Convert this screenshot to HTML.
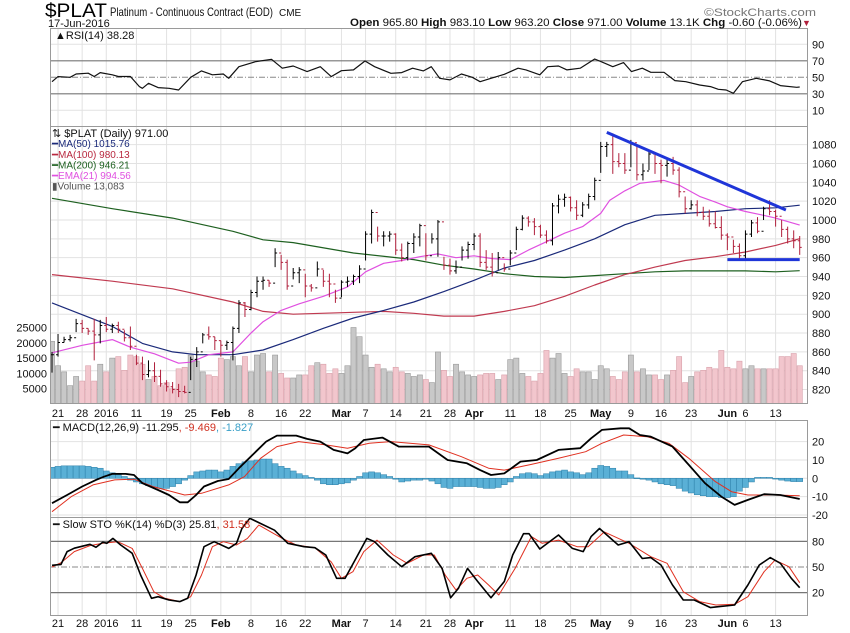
<!DOCTYPE html>
<html><head><meta charset="utf-8"><style>
html,body{margin:0;padding:0;background:#fff;}
svg{display:block;font-family:"Liberation Sans",sans-serif;}
</style></head><body>
<svg id="chart" width="850" height="633" viewBox="0 0 850 633" xmlns="http://www.w3.org/2000/svg">
<defs>
<clipPath id="cR"><rect x="50" y="28" width="758" height="99"/></clipPath>
<clipPath id="cP"><rect x="50" y="127" width="758" height="277"/></clipPath>
<clipPath id="cM"><rect x="50" y="420" width="758" height="98"/></clipPath>
<clipPath id="cS"><rect x="50" y="518" width="758" height="98"/></clipPath>
</defs>
<g id="grid"></g>
<g id="marks"></g>
<g id="frames" fill="none" stroke="#9a9a9a" stroke-width="1">
<rect x="50.5" y="28.5" width="757" height="98"/>
<rect x="50.5" y="126.5" width="757" height="277"/>
<rect x="50.5" y="420.5" width="757" height="97"/>
<rect x="50.5" y="517.5" width="757" height="98"/>
</g>
<g id="labels" font-size="11" fill="#111"></g>
<g>
<text x="45" y="17" font-size="19" fill="#000" textLength="62" lengthAdjust="spacingAndGlyphs">$PLAT</text>
<text x="110" y="16" font-size="12" fill="#111" textLength="163" lengthAdjust="spacingAndGlyphs">Platinum - Continuous Contract (EOD)</text>
<text x="279" y="16" font-size="10" fill="#111">CME</text>
<text x="48" y="27" font-size="11" fill="#111">17-Jun-2016</text>
<text x="704" y="16" font-size="11" fill="#777" textLength="112" lengthAdjust="spacingAndGlyphs">©StockCharts.com</text>
<text x="350" y="26" font-size="11" fill="#111" textLength="452" lengthAdjust="spacingAndGlyphs"><tspan font-weight="bold">Open</tspan> 965.80 <tspan font-weight="bold">High</tspan> 983.10 <tspan font-weight="bold">Low</tspan> 963.20 <tspan font-weight="bold">Close</tspan> 971.00 <tspan font-weight="bold">Volume</tspan> 13.1K <tspan font-weight="bold">Chg</tspan> -0.60 (-0.06%)</text>
<text x="802" y="26" font-size="9" fill="#b0203c">▼</text>
</g>
<g font-size="11">
<text x="55" y="39" fill="#111">▲RSI(14) 38.28</text>
<text x="52" y="137" fill="#111">⇅ $PLAT (Daily) 971.00</text>
<text x="52" y="147" font-size="10" fill="#1b2a7a">━MA(50) 1015.76</text>
<text x="52" y="158" font-size="10" fill="#b8283f">━MA(100) 980.13</text>
<text x="52" y="168.5" font-size="10" fill="#1e6020">━MA(200) 946.21</text>
<text x="52" y="179" font-size="10" fill="#e050e0">━EMA(21) 994.56</text>
<text x="52" y="189.5" font-size="10" fill="#555">▮Volume 13,083</text>
<text x="53" y="431" fill="#111">━ MACD(12,26,9) -11.295<tspan fill="#d03020">, -9.469</tspan><tspan fill="#3aa0c8">, -1.827</tspan></text>
<text x="53" y="528" fill="#111">━ Slow STO %K(14) %D(3) 25.81<tspan fill="#d03020">, 31.58</tspan></text>
</g>
</svg>
<script>
const highs=[860,879,876,878,895,894,885,895,894,897,890,892,883,887,857,855,851,849,841,830,828,826,824,855,865,880,887,876,872,872,887,915,913,926,940,940,936,970,963,958,949,950,943,932,956,947,943,926,936,940,942,952,988,1011,993,988,988,986,975,977,986,996,986,986,1000,961,959,957,972,977,986,986,968,965,966,954,968,993,1005,1004,1002,995,989,1018,1027,1028,1025,1021,1019,1028,1045,1083,1083,1092,1071,1071,1085,1078,1060,1074,1071,1064,1064,1067,1056,1025,1021,1021,1014,1011,1009,1004,986,979,975,989,1000,1003,1014,1021,1011,1000,993,989,983];
const lows=[838,855,870,871,881,880,878,851,869,881,880,880,871,862,846,830,833,828,823,818,816,812,816,830,844,869,873,862,855,862,851,880,897,904,918,926,929,950,947,926,937,933,918,924,940,929,918,912,918,929,931,933,957,975,977,972,977,963,956,957,965,972,957,975,961,947,942,943,957,959,968,950,947,940,947,945,952,968,989,993,984,981,975,973,1007,1014,1009,1000,1003,1012,1021,1050,1067,1049,1056,1049,1056,1042,1042,1053,1049,1039,1046,1048,1024,1007,1011,1004,1000,993,991,979,968,965,959,957,982,986,1000,1005,993,982,975,970,963];
const closes=[857,870,873,875,890,885,882,878,888,884,888,884,875,866,848,836,840,834,826,823,820,818,817,852,860,878,876,872,867,870,885,912,905,923,935,936,933,965,955,930,944,947,930,928,948,935,932,917,934,935,940,948,985,1008,983,983,985,968,960,975,982,994,962,980,998,952,946,950,968,974,983,955,950,944,960,948,965,990,1002,998,993,984,978,1015,1022,1024,1013,1005,1016,1025,1042,1078,1080,1062,1060,1053,1082,1048,1052,1070,1060,1058,1060,1053,1030,1012,1016,1008,1004,996,992,984,982,972,962,985,997,988,1012,1009,1004,990,980,978,971];
const volumes=[20500,12500,10500,6000,9000,7500,12500,7500,13000,10500,15000,15500,11000,16000,15500,13000,8000,9000,6000,7000,5000,11500,12000,16000,14000,10500,9500,9000,15000,14500,15500,12500,15500,10500,16000,16500,10500,16000,10000,8500,8500,9500,9500,12500,13500,13000,10000,11500,10000,12500,25000,22000,16000,12000,13000,11500,10500,12000,10500,10000,9000,9500,8000,7000,17000,11000,9000,13000,10500,9500,9000,9500,10000,10000,8000,9500,14500,15000,10000,9000,7500,10000,17500,15000,16500,10000,9000,11500,10500,10500,8000,12500,11500,9000,8000,10500,16000,10500,11500,9500,9500,8000,9500,11000,15500,7000,9000,10500,11000,12000,11500,17500,12000,11500,14000,11500,12500,11500,11500,11500,11500,15500,15500,16500,12500];
const ma50=[[0,912],[10,887],[15,869],[20,860],[24,857],[30,857],[35,862],[40,873],[45,885],[50,896],[55,904],[60,913],[65,924],[70,936],[75,949],[80,957],[85,968],[90,980],[95,995],[100,1005],[105,1007],[110,1009],[115,1012],[120,1013],[124,1015.76]];
const ma100=[[0,942],[10,935],[20,927],[30,913],[35,903],[40,900],[50,902],[55,903],[60,901],[65,898],[70,898],[75,903],[80,909],[85,919],[90,931],[95,942],[100,950],[105,957],[110,961],[115,966],[120,973],[124,980.13]];
const ma200=[[0,1023],[10,1012],[20,1002],[30,988],[35,979],[40,976],[50,965],[60,958],[65,952],[70,948],[75,943],[80,940],[85,939],[90,941],[95,943],[100,945],[105,946],[110,946],[115,946],[120,945],[124,946.21]];
const ema21=[[0,859],[5,867],[10,873],[13,865],[17,858],[21,848],[23,849],[26,857],[30,860],[33,880],[35,892],[38,904],[41,911],[45,919],[49,929],[52,945],[55,954],[58,957],[61,961],[64,964],[67,960],[70,962],[73,959],[76,958],[79,968],[82,977],[85,986],[88,993],[91,1007],[92.5,1021],[95,1031],[97.5,1039],[101.5,1042],[104,1037],[107.4,1025],[110,1019],[112,1014],[115,1009],[118,1005],[120,1002],[124,994.56]];
const rsi=[[0,44.7],[1,50.8],[3,50],[4,54],[6,55],[7,51],[8,55.7],[10,53],[11,51],[13,51],[14.5,38.7],[15,36.7],[16,42.7],[17.6,37.5],[19.4,36.7],[21,34.6],[23,50],[24.8,57.7],[26.6,53],[28.4,54],[29.3,48.8],[31,62.9],[33.8,69],[36.4,71.8],[38.2,61],[40,63.7],[42.3,56.9],[44.5,62.9],[46.3,50.8],[48,58],[50,59],[51.9,69.8],[53.5,62.9],[56.2,54.8],[58,55.7],[59.8,61],[61.6,57.7],[62.9,62.9],[64.3,48.8],[66,46.8],[67.9,54],[69.7,50],[71,44.7],[72.8,48.8],[75,53.6],[77.3,61],[78.6,59],[80.9,53],[82.2,62.9],[84,63.7],[85.4,59],[87.6,61],[90,72.2],[91.7,67],[93,62.9],[94.8,67.8],[96.1,56.9],[97.9,61],[99.3,56],[101.5,56],[103.3,46],[105.1,44.7],[107.4,40.7],[109.2,38.7],[110.5,35.5],[111.8,34.6],[113,30.6],[114.5,44.7],[116.8,48.8],[119,45.6],[120.8,39.9],[123.5,37.9],[124,38.28]];
const macd=[[0,-13.6],[2.5,-9.1],[5,-4.5],[7.3,-0.9],[8.6,0.9],[10,2.4],[12.2,2.4],[13.6,1.8],[15,-2.7],[17.6,-6.4],[19.4,-9.1],[21.2,-13.1],[22.5,-13.1],[23.9,-9.1],[25.2,-4.5],[27.5,-1.5],[29.3,-0.4],[31,5.5],[33.8,14.5],[35.5,20],[37.3,23.3],[40.5,23.3],[42.3,21.5],[44.5,20],[46.7,15.5],[49,13.6],[50.3,16.4],[51.7,20.9],[54.8,22.2],[57.5,17.3],[59.8,17.3],[62.5,17.3],[65.6,10],[68.8,8.2],[71,4.5],[72.8,1.8],[75,2.7],[77.7,9.1],[80.4,10],[84,15.5],[87.6,16.4],[89.4,21.8],[91.2,26.4],[94.3,27.3],[95.7,27.3],[97.5,23.6],[99.3,22.7],[102.9,17.3],[105.6,7.3],[108.3,-2.7],[111,-10],[113.2,-14.5],[115.4,-11.8],[118.1,-8.7],[120.8,-9.1],[124,-11.3]];
const signal=[[0,-18.2],[3.2,-10],[6.8,-3.6],[10.4,-0.9],[13.6,-0.5],[16.7,-4.5],[22,-9.1],[24.8,-8.2],[29.3,-3.6],[31.9,0.9],[34.6,10.9],[37.3,17.3],[40.9,20],[45.4,18.2],[49,16.4],[52.6,19.1],[56.2,20],[62.5,18.2],[67.9,11.8],[72.4,5.5],[75,4.5],[79.5,7.6],[84,10.9],[88.5,14.5],[91.2,19.1],[94.8,23.6],[98.7,22.7],[102.3,19.1],[105.6,10.9],[110,-1.8],[112.7,-7.3],[115.4,-9.1],[119.9,-9.1],[124,-9.5]];
const hist=[6,6.5,6.8,6.8,6.8,6.8,6.5,6,5.5,4,3,2,1,-1,-2,-3,-4,-5,-5.5,-5.5,-4.5,-3,-1,1.5,3.5,4,4.5,4.5,3.5,4.5,6.5,8,9,9.5,10,10.5,10.5,8,6.5,5.5,4,2.5,1.5,0.5,-1,-3,-3.5,-3.5,-3,-2.5,-1,1,3,3.5,3,2,1,-0.5,-2,-1.5,-1,-1,-0.5,-1.5,-3,-5,-5.5,-4.5,-4.5,-4.5,-4.5,-5,-5.5,-5.5,-5,-3.5,-2,1,2.5,3,2.5,1.5,2.5,3.5,4,4.5,3.5,3,2,3,5.5,7,6.5,5.5,4,4,2,0.2,-0.5,-1,-2,-3,-3.5,-4,-5.5,-7,-8,-9,-9.5,-10,-10,-10.5,-10.5,-10,-7,-5,-2,0.5,0.5,0.5,0,-1,-1.5,-1.8,-1.8];
const stoK=[[0,52],[1.5,53],[2.5,68],[3.7,72],[6.3,76.5],[7.3,73],[8.4,79],[9.1,77.7],[10.1,83.5],[11.4,75.7],[13.3,66],[14.7,40.6],[16.5,13.4],[17.6,15.3],[19.4,11.4],[21.2,9.5],[22.5,13.4],[23.9,40.6],[25.2,73.8],[26.9,79.6],[29.3,71.8],[30.6,77.7],[31.5,95],[32.8,107],[36.9,93],[39.1,77.7],[41.8,73.8],[43.6,72.6],[45.4,64],[47.2,36.8],[48.6,36.8],[50.4,60],[52.2,83.5],[53.5,79.6],[55.7,64],[58,50.4],[60.2,62],[62.9,66],[64.7,48.4],[66.1,14],[67.4,25],[68.9,48.4],[70.6,33],[72.8,14],[75,33],[76.4,64],[78.2,89],[79.1,89],[80.9,71],[84,87.4],[86.3,71.8],[88.1,68],[89.4,85.5],[90.8,95],[93.9,75.7],[95.7,79.6],[97.9,60],[99.3,61],[101,52.3],[102.9,29],[104.7,11.4],[106.5,11.4],[109.2,2.5],[110.5,3.6],[113.2,5.6],[115.4,29],[117.3,52.3],[119.1,61],[120.8,54.3],[122.6,36.8],[124,25.81]];
const stoD=[[0,50],[1.5,55],[3.7,68],[6.3,75],[8.4,77.7],[10.9,79.6],[13.3,71.8],[15,48.4],[16.9,21],[18.7,13.4],[21.2,9.5],[23,15.3],[24.8,40.6],[26.6,73.8],[28.4,79.6],[30.6,75.7],[32.4,83.5],[34.3,99],[38.2,83.5],[40.5,75.7],[43.6,72.6],[46.3,56],[48,36.8],[49.9,44.5],[51.7,68],[53.9,81.5],[56.6,64],[58.9,54.3],[61.6,64],[63.4,64],[65.2,40.6],[67,23],[68.8,36.8],[70.6,40.6],[72.4,29],[74.1,17.3],[76.8,48.4],[79.5,85.5],[81.3,77.7],[84,81.5],[87.1,73.8],[88.9,73.8],[91.6,91],[95.7,77.7],[99.3,62],[102,54.3],[104.7,21],[107.4,9.5],[110.1,5.6],[113.2,6.4],[115.4,15.3],[118.1,44.5],[119.9,58],[122.2,50.4],[124,31.58]];
const trendDown=[[92,1093],[121.7,1010.6]];
const supportLine=[[112,958],[124,958]];
const dateIdx=[1,5,9,14,19,23,28,33,38,42,48,52,57,62,66,70,76,81,86,91,96,101,106,112,115,120];
const dateLabels=["21","28","2016","11","19","25","Feb","8","16","22","Mar","7","14","21","28","Apr","11","18","25","May","9","16","23","Jun","6","13"];
const priceTicks=[820,840,860,880,900,920,940,960,980,1000,1020,1040,1060,1080];
const volTicks=[5000,10000,15000,20000,25000];
const rsiTicks=[10,30,50,70,90];
const macdTicks=[-20,-10,0,10,20];
const stoTicks=[20,50,80];

const NS="http://www.w3.org/2000/svg";
const X=i=>52+6.03*i;
const yP=p=>220-(p-1000)*0.942;
const yV=v=>404-v*0.00306;
const yR=r=>77.3-(r-50)*0.825;
const yM=v=>478.3-v*1.833;
const yS=v=>567-(v-50)*0.855;
function mk(tag,attrs,parent){const e=document.createElementNS(NS,tag);for(const k in attrs)e.setAttribute(k,attrs[k]);parent.appendChild(e);return e;}
const grid=document.getElementById('grid'),marks=document.getElementById('marks'),labels=document.getElementById('labels');

// vertical grid lines
dateIdx.forEach((d,k)=>{
  [[28,127],[127,404],[420,518],[518,616]].forEach(r=>{
    const l=mk('line',{x1:X(d),x2:X(d),y1:r[0],y2:r[1],stroke:'#e2e2e2'},grid);
    
    
  });
  const bold=isNaN(+dateLabels[k]);
  [417,627].forEach(yy=>{
    const t=mk('text',{x:X(d),y:yy,'text-anchor':'middle','font-weight':bold?'bold':'normal'},labels);
    t.textContent=dateLabels[k];
    
    
  });
});
function hTicks(ticks,f,x1,lab,style){
  ticks.forEach(v=>{
    const st=style?style(v):{stroke:'#e2e2e2'};
    const l=mk('line',Object.assign({x1:x1,x2:808,y1:f(v),y2:f(v)},st),grid);
    
    
    if(lab){const t=mk('text',{x:812,y:f(v)+4},labels);t.textContent=v;
      
      }
  });
}
hTicks(priceTicks,yP,50,true);
hTicks(rsiTicks,yR,50,true,v=>v==70||v==30?{stroke:'#777','stroke-width':1.2}:v==50?{stroke:'#888','stroke-dasharray':'6,2,1,2'}:{stroke:'#e2e2e2'});
hTicks(macdTicks,yM,50,true);
hTicks(stoTicks,yS,50,true,v=>v==50?{stroke:'#888','stroke-dasharray':'6,2,1,2'}:{stroke:'#777','stroke-width':1.2});
volTicks.forEach(v=>{const t=mk('text',{x:47,y:yV(v)+4,'text-anchor':'end'},labels);t.textContent=v;
  
  });

// volume
const gV=mk('g',{'clip-path':'url(#cP)'},marks);
volumes.forEach((v,i)=>{
  const up=i==0||closes[i]>=closes[i-1];
  const r=mk('rect',{x:X(i)-2.6,y:yV(v),width:5.2,height:404-yV(v),fill:up?'#c8c8c8':'#f2c6cd',stroke:up?'#999':'#d8a0aa','stroke-width':0.6},gV);
  
  
});
function line(pts,xf,yf,col,w,clip,name){
  const d=pts.map((p,k)=>(k?'L':'M')+xf(p[0]).toFixed(1)+','+yf(p[1]).toFixed(1)).join('');
  const e=mk('path',{d:d,fill:'none',stroke:col,'stroke-width':w,'clip-path':'url(#'+clip+')','stroke-linejoin':'round'},marks);
  
  
}
line(ma200,X,yP,'#1e6020',1.2,'cP','ma200-line');
line(ma100,X,yP,'#c03a50',1.2,'cP','ma100-line');
line(ma50,X,yP,'#1b2a7a',1.2,'cP','ma50-line');
line(ema21,X,yP,'#e050e0',1.2,'cP','ema21-line');
// price bars
const gB=mk('g',{'clip-path':'url(#cP)'},marks);
highs.forEach((h,i)=>{
  const o=i==0?closes[0]:closes[i-1],c=closes[i];
  const col=c>=o?'#000':'#b0203c';
  const x=X(i);
  const p=mk('path',{d:`M${x},${yP(h)}V${yP(lows[i])}M${x-2},${yP(o)}H${x}M${x},${yP(c)}H${x+2}`,stroke:col,'stroke-width':1,fill:'none'},gB);
  
  
});
line(trendDown,X,yP,'#1f35d8',3,'cP','resistance-trendline');
line(supportLine,X,yP,'#1f35d8',3,'cP','support-line');
// rsi
line(rsi,X,yR,'#111',1.2,'cR','rsi-line');
// macd histogram
const gH=mk('g',{'clip-path':'url(#cM)'},marks);
hist.forEach((v,i)=>{
  const y0=yM(0),y1=yM(v);
  const r=mk('rect',{x:X(i)-3,y:Math.min(y0,y1),width:6,height:Math.max(0.8,Math.abs(y1-y0)),fill:'#5ab0d6',stroke:'#2c7fa8','stroke-width':0.5},gH);
  
  
});
line(signal,X,yM,'#e03020',1,'cM','macd-signal-line');
line(macd,X,yM,'#000',1.8,'cM','macd-line');
line(stoD,X,yS,'#e03020',1,'cS','stoch-d-line');
line(stoK,X,yS,'#000',1.6,'cS','stoch-k-line');
</script>
</body></html>
